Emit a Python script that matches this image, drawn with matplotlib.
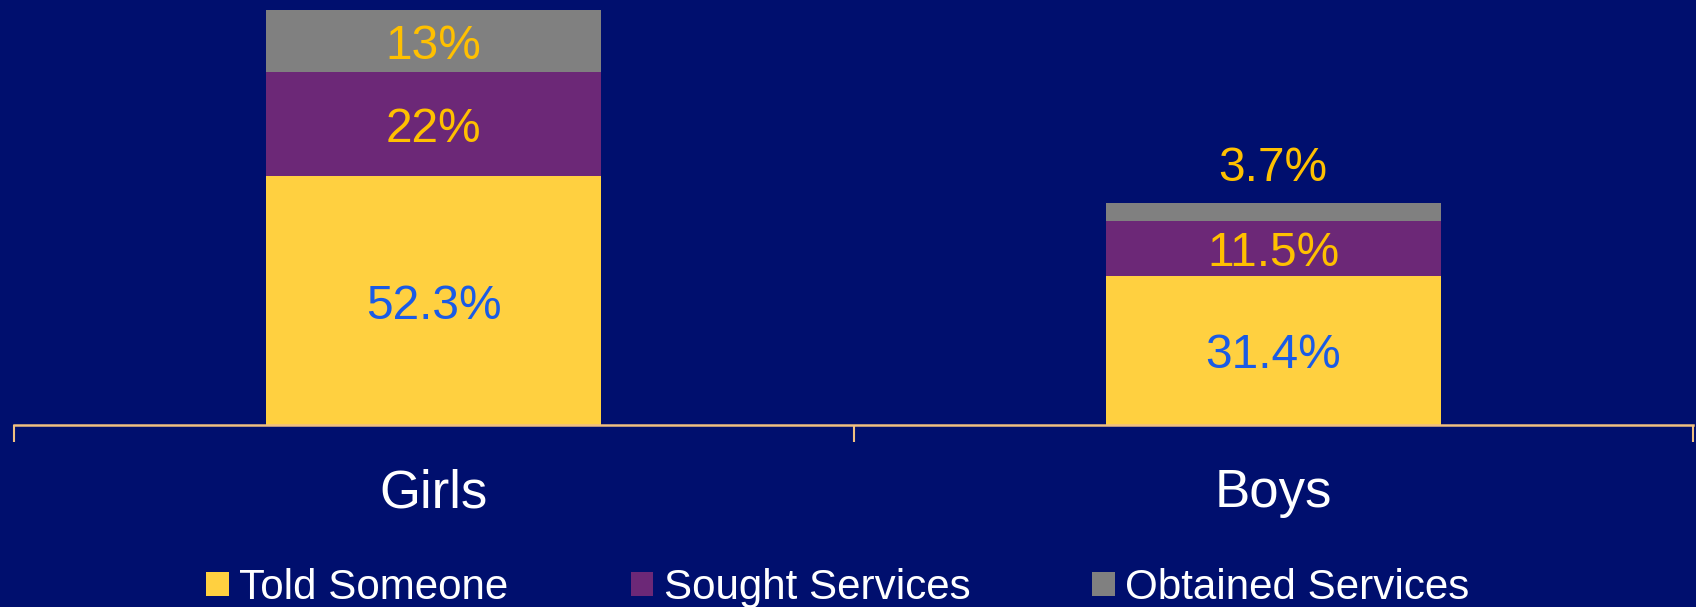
import matplotlib
matplotlib.use("Agg")
import matplotlib.pyplot as plt
from matplotlib.patches import Patch
import numpy as np

plt.rcParams['font.family'] = ['Liberation Sans', 'DejaVu Sans']

categories = ["Girls", "Boys"]
series_names = ["Told Someone", "Sought Services", "Obtained Services"]
told = [52.3, 31.4]
sought = [22.0, 11.5]
obtained = [13.0, 3.7]
label_told = ["52.3%", "31.4%"]
label_sought = ["22%", "11.5%"]
label_obtained = ["13%", "3.7%"]

bg = "#000F6E"
c_told = "#FFD040"
c_sought = "#6C2877"
c_obt = "#808080"
c_lab_orange = "#FFC000"
c_lab_blue = "#1A5BE6"
c_axis = "#F0C080"

W, H = 1696, 607
fig = plt.figure(figsize=(W / 100, H / 100), dpi=100, facecolor=bg)
ax = fig.add_axes([14 / W, 1 - 425 / H, 1679 / W, 425 / H])
ax.set_facecolor(bg)

x = np.array([0.5, 1.5])
bw = 0.399
told_a = np.array(told)
sought_a = np.array(sought)
obt_a = np.array(obtained)

ax.bar(x, told_a, bw, color=c_told, zorder=2)
ax.bar(x, sought_a, bw, bottom=told_a, color=c_sought, zorder=2)
ax.bar(x, obt_a, bw, bottom=told_a + sought_a, color=c_obt, zorder=2)

ax.set_xlim(0, 2)
ax.set_ylim(0, 89.34)

fs = 34.5
dy = -4
def lab(xv, yv, s, color, off=dy):
    ax.annotate(s, xy=(xv, yv), xytext=(0, off), textcoords='offset points',
                ha='center', va='center', color=color, fontsize=fs)

for i in range(2):
    lab(x[i], told_a[i] / 2, label_told[i], c_lab_blue)
    lab(x[i], told_a[i] + sought_a[i] / 2, label_sought[i], c_lab_orange)
    top = told_a[i] + sought_a[i] + obt_a[i]
    if obt_a[i] >= 8:
        lab(x[i], told_a[i] + sought_a[i] + obt_a[i] / 2, label_obtained[i], c_lab_orange)
    else:
        lab(x[i], top, label_obtained[i], c_lab_orange, off=25)

for s in ['left', 'right', 'top']:
    ax.spines[s].set_visible(False)
ax.spines['bottom'].set_color(c_axis)
ax.spines['bottom'].set_linewidth(1.8)
ax.set_yticks([])
ax.set_xticks([0, 1, 2])
ax.set_xticklabels([])
ax.tick_params(axis='x', direction='out', length=12, width=1.5, color=c_axis)

for i in range(2):
    ax.text(x[i], -68 / 425, categories[i], transform=ax.get_xaxis_transform(),
            ha='center', va='center', color='white', fontsize=38)

handles = [Patch(facecolor=c, edgecolor='none') for c in (c_told, c_sought, c_obt)]
leg = fig.legend(handles, series_names, loc='center',
                 bbox_to_anchor=(838 / W, 1 - 588 / H), ncol=3, frameon=False,
                 fontsize=30.35, handlelength=0.53, handleheight=0.53,
                 handletextpad=0.25, columnspacing=2.9, borderpad=0)
for t in leg.get_texts():
    t.set_color('white')

fig.savefig("out.png", dpi=100, facecolor=bg)
